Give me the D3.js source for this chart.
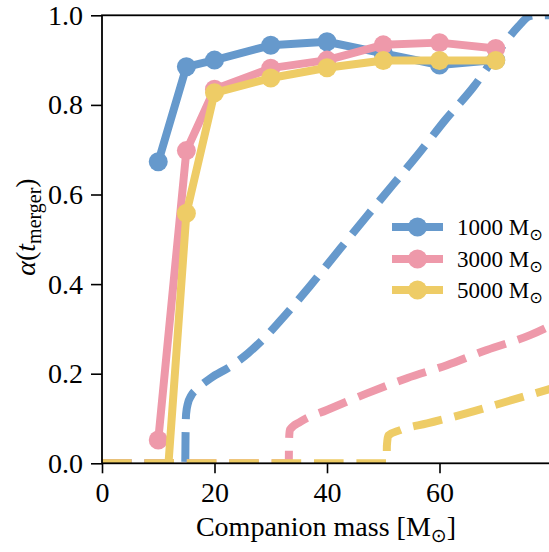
<!DOCTYPE html>
<html>
<head>
<meta charset="utf-8">
<script src="https://cdn.jsdelivr.net/npm/d3@7"></script>
<style>
body { margin: 0; background: #fff; }
text { font-family: "Liberation Serif", "DejaVu Serif", serif; fill: #000; }
</style>
</head>
<body>
<svg id="chart"></svg>
<script>
const size = {w: 549, h: 552};
const plot = {l: 102, r: 552, t: 15.3, b: 463.3};

// companion masses where alpha was measured
const masses = [10, 15, 20, 30, 40, 50, 60, 70];
const series = ['1000', '3000', '5000'];
const colors = ['#6699CC', '#EE99AA', '#EECC66'];

const alpha1000 = [0.673, 0.885, 0.900, 0.933, 0.941, 0.915, 0.889, 0.900];
const alpha3000 = [0.052, 0.698, 0.835, 0.882, 0.900, 0.934, 0.939, 0.926];
const alpha5000 = [-0.32, 0.558, 0.827, 0.860, 0.883, 0.899, 0.899, 0.899];

// dashed curves: [mass, alpha]
const curve1000 = [[0, 0], [14.8, 0], [14.85, 0.06], [14.95, 0.11], [15.3, 0.135], [15.8, 0.15],
    [17, 0.167], [19.3, 0.19], [22.8, 0.216], [26, 0.246], [29.5, 0.288], [32.3, 0.327], [37, 0.396],
    [42.4, 0.48], [47.1, 0.552], [51.6, 0.62], [56.6, 0.696], [61, 0.766], [66.1, 0.841],
    [71.4, 0.935], [74, 0.975], [76, 0.998], [77, 1.0], [81, 1.0]];
const curve3000 = [[0, 0], [33.2, 0], [33.25, 0.05], [33.4, 0.075], [35.3, 0.093], [40, 0.119],
    [47.1, 0.156], [54.2, 0.19], [61.3, 0.219], [68.4, 0.253], [76.1, 0.286], [81, 0.315]];
const curve5000 = [[0, 0], [50.6, 0], [50.65, 0.04], [50.9, 0.062], [53, 0.074], [57.8, 0.089],
    [64.9, 0.112], [72, 0.138], [79.1, 0.164], [81, 0.171]];

const xTicks = [0, 20, 40, 60];
const yTicks = [0, 0.2, 0.4, 0.6, 0.8, 1.0];

const svg = d3.select('svg#chart')
    .attr('width', size.w)
    .attr('height', size.h);

const x = d3.scaleLinear().domain([0, 80]).range([plot.l, plot.r]);
const y = d3.scaleLinear().domain([0, 1]).range([plot.b, plot.t]);

svg.append('clipPath')
    .attr('id', 'clip')
    .append('rect')
    .attr('x', plot.l)
    .attr('y', plot.t)
    .attr('width', plot.r - plot.l)
    .attr('height', plot.b - plot.t);

const dataG = svg.append('g').attr('clip-path', 'url(#clip)');

const dashLine = d3.line()
    .x(d => x(d[0]))
    .y(d => y(d[1]))
    .curve(d3.curveMonotoneX);

// dashed curves first, solid lines on top
[curve1000, curve3000, curve5000].forEach((c, i) => {
    dataG.append('path')
        .attr('d', dashLine(c))
        .attr('fill', 'none')
        .attr('stroke', colors[i])
        .attr('stroke-width', 8)
        .attr('stroke-dasharray', '29.6,12.8');
});

const line = d3.line()
    .x((d, i) => x(masses[i]))
    .y(d => y(d));

[alpha1000, alpha3000, alpha5000].forEach((vals, i) => {
    let g = dataG.append('g');
    g.append('path')
        .attr('d', line(vals))
        .attr('fill', 'none')
        .attr('stroke', colors[i])
        .attr('stroke-width', 8)
        .attr('stroke-linejoin', 'round');
    g.selectAll('circle')
        .data(vals)
        .join('circle')
        .attr('cx', (d, j) => x(masses[j]))
        .attr('cy', d => y(d))
        .attr('r', 9.5)
        .attr('fill', colors[i]);
});

// axes
const xAxis = svg.append('g')
    .attr('transform', `translate(0, ${plot.b})`)
    .call(d3.axisBottom(x).tickValues(xTicks).tickFormat(d3.format('d')).tickSize(10).tickPadding(9));

const yAxis = svg.append('g')
    .attr('transform', `translate(${plot.l}, 0)`)
    .call(d3.axisLeft(y).tickValues(yTicks).tickFormat(d3.format('.1f')).tickSize(11).tickPadding(8));

[xAxis, yAxis].forEach(a => {
    a.selectAll('.domain').remove();
    a.selectAll('line').attr('stroke', '#000').attr('stroke-width', 1.6);
    a.selectAll('text').attr('font-size', 28).attr('font-family', '"Liberation Serif", serif');
});

// frame
svg.append('rect')
    .attr('x', plot.l)
    .attr('y', plot.t)
    .attr('width', plot.r - plot.l)
    .attr('height', plot.b - plot.t)
    .attr('fill', 'none')
    .attr('stroke', '#000')
    .attr('stroke-width', 1.8);

// axis labels
const xl = svg.append('text')
    .attr('x', 326)
    .attr('y', 536)
    .attr('text-anchor', 'middle')
    .attr('font-size', 28);
xl.append('tspan').text('Companion mass [M');
xl.append('tspan').text('⊙').attr('font-size', 19).attr('dy', 6).attr('font-family', '"DejaVu Sans"');
xl.append('tspan').text(']').attr('dy', -6);

const yl = svg.append('text')
    .attr('transform', `translate(35, 227) rotate(-90)`)
    .attr('text-anchor', 'middle')
    .attr('font-size', 28);
yl.append('tspan').text('α').attr('font-style', 'italic');
yl.append('tspan').text('(');
yl.append('tspan').text('t').attr('font-style', 'italic');
yl.append('tspan').text('merger').attr('font-size', 20).attr('dy', 6);
yl.append('tspan').text(')').attr('dy', -6);

// legend
const legendY = [227, 259, 290];
const legend = svg.append('g');
series.forEach((s, i) => {
    let row = legend.append('g').attr('transform', `translate(0, ${legendY[i]})`);
    row.append('line')
        .attr('x1', 392).attr('x2', 443)
        .attr('stroke', colors[i])
        .attr('stroke-width', 8);
    row.append('circle')
        .attr('cx', 417.5)
        .attr('r', 9.5)
        .attr('fill', colors[i]);
    let t = row.append('text')
        .attr('x', 457)
        .attr('y', 8)
        .attr('font-size', 23);
    t.append('tspan').text(`${s} M`);
    t.append('tspan').text('⊙').attr('font-size', 16).attr('dy', 5).attr('font-family', '"DejaVu Sans"');
});
</script>
</body>
</html>
